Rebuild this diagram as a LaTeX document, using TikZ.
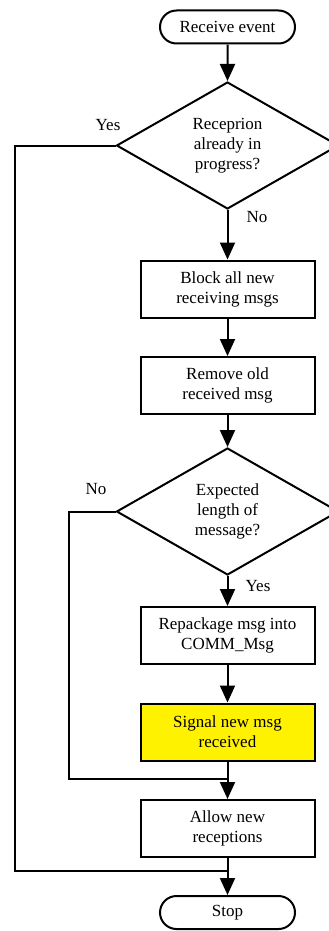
\documentclass[tikz,border=0pt]{standalone}
\usepackage{fontspec}
\setmainfont{Liberation Serif}
\usetikzlibrary{shapes.geometric,shapes.misc,arrows.meta}
\begin{document}
\begin{tikzpicture}[x=1pt,y=-1pt,
  every node/.style={font=\fontsize{17}{20}\selectfont, inner sep=0pt, align=center},
  line/.style={line width=2pt},
  flow/.style={line, -{Triangle[length=17pt,width=15pt]}},
  terminal/.style={draw, line width=2pt, rounded rectangle, minimum width=135pt, minimum height=33pt},
  process/.style={draw, line width=2pt, rectangle, minimum width=174pt, minimum height=57pt},
  decision/.style={draw, line width=2pt, diamond, aspect=1.75, minimum width=222pt, minimum height=127pt},
  tag/.style={font=\fontsize{17}{18}\selectfont}]
\useasboundingbox (0,0) rectangle (329,931);
\clip (0,0) rectangle (329,931);

\node[terminal] (start) at (227.5,27) {Receive event};
\node[decision] (d1) at (227.5,145.5) {Receprion\\already in\\progress?};
\node[process] (b1) at (227.5,289) {Block all new\\receiving msgs};
\node[process] (b2) at (227.5,385.5) {Remove old\\received msg};
\node[decision] (d2) at (227.5,511.5) {Expected\\length of\\message?};
\node[process] (b3) at (227.5,635.5) {Repackage msg into\\COMM\_Msg};
\node[process, fill=yellow] (b4) at (227.5,732) {Signal new msg\\received};
\node[process] (b5) at (227.5,828.5) {Allow new\\receptions};
\node[terminal] (stop) at (227.5,912.5) {Stop};

% merge points of the bypass lines
\coordinate (j1) at (227.5,871);
\coordinate (j2) at (227.5,779);
\coordinate (c1) at (15,145.5);
\coordinate (c2) at (69,511.5);

\draw[flow] (start) -- (d1);
\draw[flow] (d1) -- (b1);
\draw[flow] (b1) -- (b2);
\draw[flow] (b2) -- (d2);
\draw[flow] (d2) -- (b3);
\draw[flow] (b3) -- (b4);
\draw[flow] (b4) -- (b5);
\draw[flow] (b5) -- (stop);

\draw[line] (d1.west) -- (c1) |- (j1);
\draw[line] (d2.west) -- (c2) |- (j2);

\node[tag] (yes1) at (108,125) {Yes};
\node[tag] (no1) at (257,217) {No};
\node[tag] (no2) at (96,489) {No};
\node[tag] (yes2) at (258,586) {Yes};
\end{tikzpicture}
\end{document}
